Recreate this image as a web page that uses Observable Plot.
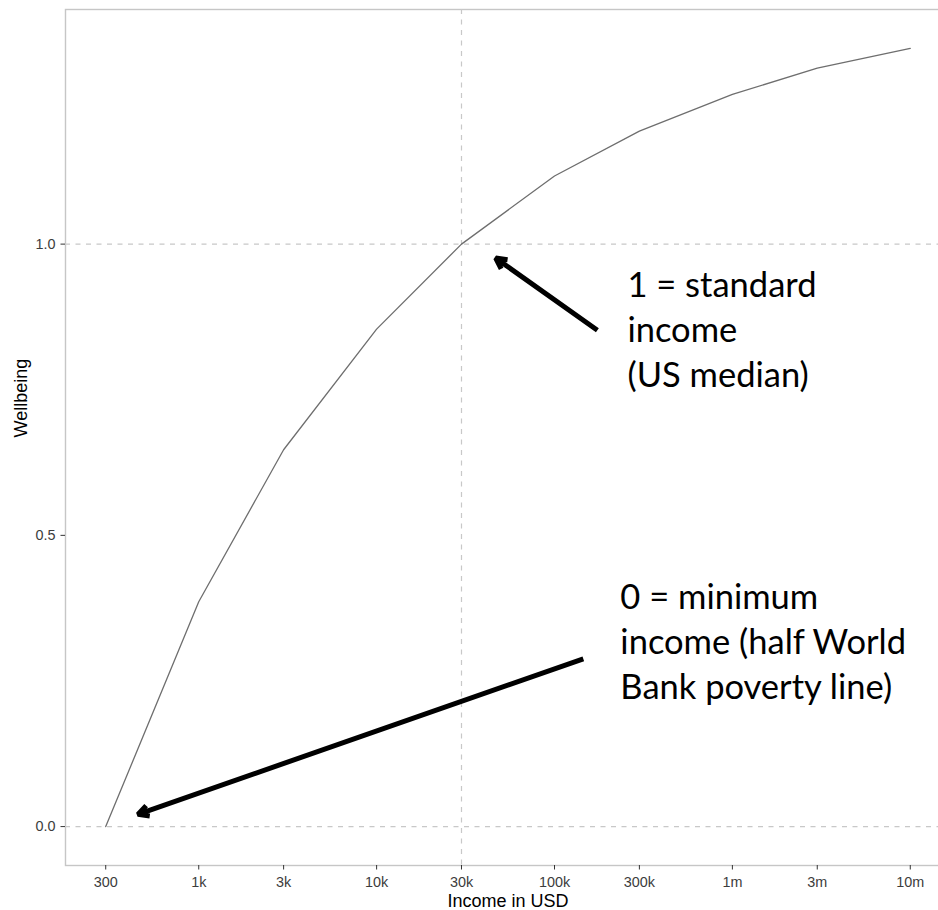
<!DOCTYPE html>
<html>
<head>
<meta charset="utf-8">
<script src="https://cdn.jsdelivr.net/npm/d3@7"></script>
<script src="https://cdn.jsdelivr.net/npm/@observablehq/plot@0.6"></script>
<style>
  html, body { margin: 0; padding: 0; background: #fff; overflow: hidden; }
  #chart svg { max-width: none !important; display: block; }
</style>
</head>
<body>
<div id="chart"></div>
<script>
// Data
const incomes = [300, 1000, 3000, 10000, 30000, 100000, 300000, 1000000, 3000000, 10000000];
const incomeLabels = ["300", "1k", "3k", "10k", "30k", "100k", "300k", "1m", "3m", "10m"];
const wellbeing = [0, 0.386, 0.647, 0.854, 1.0, 1.117, 1.194, 1.257, 1.302, 1.336];
const yTicks = [0, 0.5, 1];
const yTickLabels = ["0.0", "0.5", "1.0"];
const refWellbeing = [0, 1];
const refIncome = [30000];

// Annotations (data coordinates)
const annText = ["1 = standard\nincome\n(US median)", "0 = minimum\nincome (half World\nBank poverty line)"];
const annX = [257000, 234500];
const annY = [0.964, 0.4285];
const arrowX1 = [174200, 145200];
const arrowY1 = [0.852, 0.288];
const arrowX2 = [46700, 455];
const arrowY2 = [0.976, 0.021];

const curve = incomes.map((x, i) => ({x, y: wellbeing[i]}));
const xLabels = incomes.map((x, i) => ({x, label: incomeLabels[i]}));
const yLabels = yTicks.map((y, i) => ({y, label: yTickLabels[i]}));
const notes = annText.map((t, i) => ({t, x: annX[i], y: annY[i]}));
const arrows = arrowX1.map((x1, i) => ({x1, y1: arrowY1[i], x2: arrowX2[i], y2: arrowY2[i]}));

const lx0 = Math.log10(d3.min(incomes)), lx1 = Math.log10(d3.max(incomes));
const padX = (lx1 - lx0) * 0.05;
const y0 = d3.min(wellbeing), y1 = d3.max(wellbeing);
const padY = (y1 - y0) * 0.05;

const annFont = 34.5;

const chart = Plot.plot({
  width: 950,
  height: 910,
  marginLeft: 65,
  marginRight: 0,
  marginTop: 9,
  marginBottom: 45,
  style: {fontFamily: "'Liberation Sans', Arial, sans-serif", fontSize: "14.4px", background: "#fff"},
  x: {type: "log", domain: [10 ** (lx0 - padX), 10 ** (lx1 + padX)]},
  y: {domain: [y0 - padY, y1 + padY]},
  marks: [
    Plot.frame({stroke: "#c6c6c6", strokeWidth: 1.4}),
    Plot.ruleY(refWellbeing, {stroke: "#c8c8c8", strokeWidth: 1.2, strokeDasharray: "5,5.5"}),
    Plot.ruleX(refIncome, {stroke: "#c8c8c8", strokeWidth: 1.2, strokeDasharray: "5,5.5"}),
    Plot.line(curve, {x: "x", y: "y", stroke: "#6e6e6e", strokeWidth: 1.3}),
    Plot.arrow(arrows, {x1: "x1", y1: "y1", x2: "x2", y2: "y2", stroke: "#000", strokeWidth: 5,
      headLength: 3.6, headAngle: 55, strokeLinejoin: "miter", strokeLinecap: "butt"}),
    Plot.text(notes, {x: "x", y: "y", text: "t", textAnchor: "start", lineAnchor: "top",
      fontFamily: "Lato", fontSize: annFont, lineHeight: 45 / annFont, fill: "#000"}),
    Plot.axisX({ticks: incomes, tickFormat: () => "", tickSize: 4.5, color: "#333", label: null}),
    Plot.text(xLabels, {x: "x", text: "label", frameAnchor: "bottom", lineAnchor: "top", dy: 11,
      fontSize: 14.4, fill: "#3c3c3c"}),
    Plot.axisY({ticks: yTicks, tickFormat: () => "", tickSize: 4.5, color: "#333", label: null}),
    Plot.text(yLabels, {y: "y", text: "label", frameAnchor: "left", textAnchor: "end", lineAnchor: "middle",
      dx: -10, fontSize: 14.4, fill: "#3c3c3c"}),
    Plot.text(["Income in USD"], {frameAnchor: "bottom", lineAnchor: "middle", dy: 36, fontSize: 18, fill: "#000"}),
    Plot.text(["Wellbeing"], {frameAnchor: "left", lineAnchor: "middle", dx: -44, rotate: -90, fontSize: 18, fill: "#000"})
  ]
});
document.getElementById("chart").appendChild(chart);
</script>
</body>
</html>
